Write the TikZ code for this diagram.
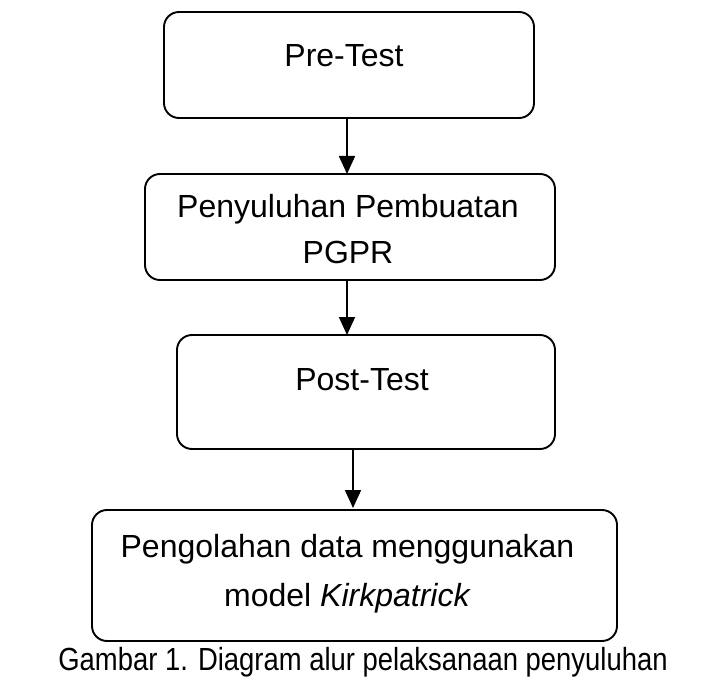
\documentclass[tikz,border=0pt]{standalone}
\usepackage{fontspec}
\setmainfont{Liberation Sans}
\usetikzlibrary{arrows.meta}
\begin{document}
\begin{tikzpicture}[x=1pt,y=-1pt,
  box/.style={draw=black,line width=1.9pt,rounded corners=15pt},
  lbl/.style={anchor=base,inner sep=0pt,font=\fontsize{32}{36}\selectfont},
  arr/.style={line width=1.8pt,-{Triangle[width=16pt,length=18pt]}}]
\useasboundingbox (0,0) rectangle (723,679);
\fill[white] (0,0) rectangle (723,679);
% boxes
\node[box,inner sep=0pt,minimum width=370pt,minimum height=106pt] (b1) at (349,65) {};
\node[box,inner sep=0pt,minimum width=410pt,minimum height=106pt] (b2) at (350,227) {};
\node[box,inner sep=0pt,minimum width=378pt,minimum height=114pt] (b3) at (366,392) {};
\node[box,inner sep=0pt,minimum width=525pt,minimum height=131pt] (b4) at (354.5,575.5) {};
% texts
\node[lbl] (t1) at (344,67) {Pre-Test};
\node[lbl] (t2a) at (348,218) {Penyuluhan Pembuatan};
\node[lbl] (t2b) at (348,263) {PGPR};
\node[lbl] (t3) at (362,390) {Post-Test};
\node[lbl] (t4a) at (347.5,557) {Pengolahan data menggunakan};
\node[lbl] (t4b) at (347.5,606) {model \textit{Kirkpatrick}};
\node[lbl] (cap) at (363,670) {\scalebox{0.857}[1]{Gambar 1. Diagram alur pelaksanaan penyuluhan}};
% arrows
\coordinate (a1s) at (347,118);
\coordinate (a1e) at (347,174);
\coordinate (a2s) at (347,280);
\coordinate (a2e) at (347,335);
\coordinate (a3s) at (353,449);
\coordinate (a3e) at (353,508);
\draw[arr] (a1s) -- (a1e);
\draw[arr] (a2s) -- (a2e);
\draw[arr] (a3s) -- (a3e);
\end{tikzpicture}
\end{document}
